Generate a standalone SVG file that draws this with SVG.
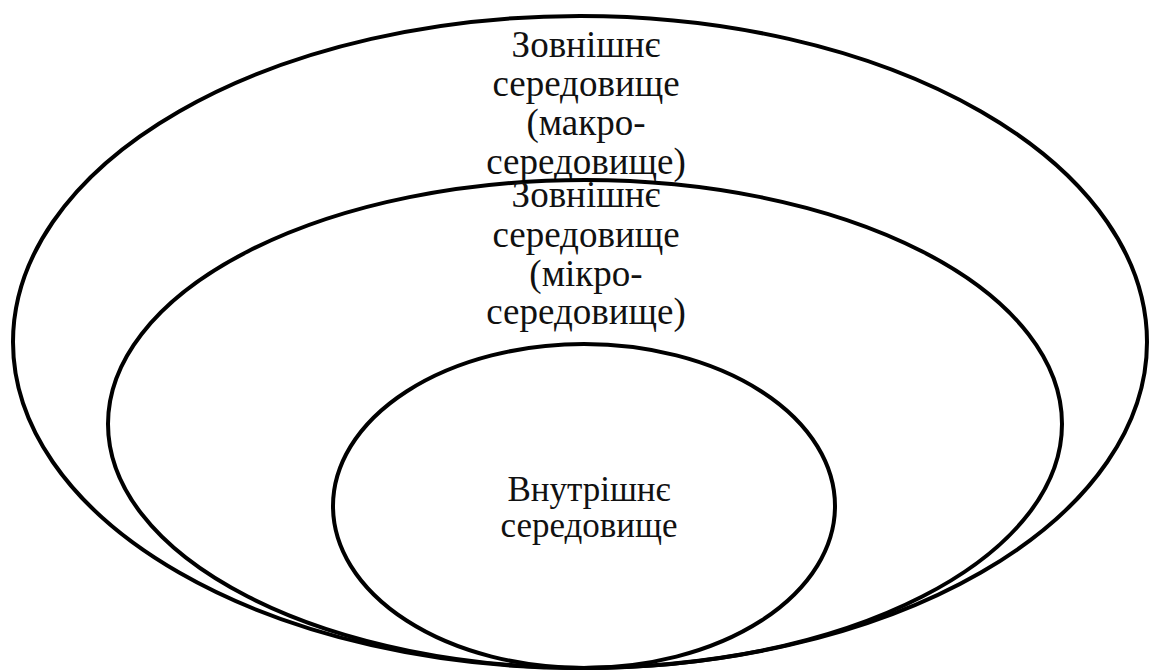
<svg xmlns="http://www.w3.org/2000/svg" width="1149" height="672" viewBox="0 0 1149 672">
<style>
.ring{fill:none;stroke:#000;stroke-width:4}
.lbl{font-family:"Liberation Serif","DejaVu Serif","Noto Serif",serif;font-size:37px;fill:#111;text-anchor:middle}
</style>
<rect width="1149" height="672" fill="#fff"/>
<g id="macro">
<ellipse class="ring" cx="580" cy="342" rx="567" ry="326"/>
<text class="lbl" x="586" y="57">Зовнішнє</text>
<text class="lbl" x="586" y="96">середовище</text>
<text class="lbl" x="586" y="135">(макро-</text>
<text class="lbl" x="586" y="174">середовище)</text>
</g>
<g id="micro">
<ellipse class="ring" cx="585" cy="424" rx="477" ry="244"/>
<text class="lbl" x="586" y="207">Зовнішнє</text>
<text class="lbl" x="586" y="247">середовище</text>
<text class="lbl" x="586" y="286">(мікро-</text>
<text class="lbl" x="586" y="324">середовище)</text>
</g>
<g id="internal">
<ellipse class="ring" cx="584" cy="506" rx="251" ry="162"/>
<text class="lbl" x="589" y="501" style="font-size:35px">Внутрішнє</text>
<text class="lbl" x="589" y="537" style="font-size:35px">середовище</text>
</g>
<g id="connectors"></g>
</svg>
